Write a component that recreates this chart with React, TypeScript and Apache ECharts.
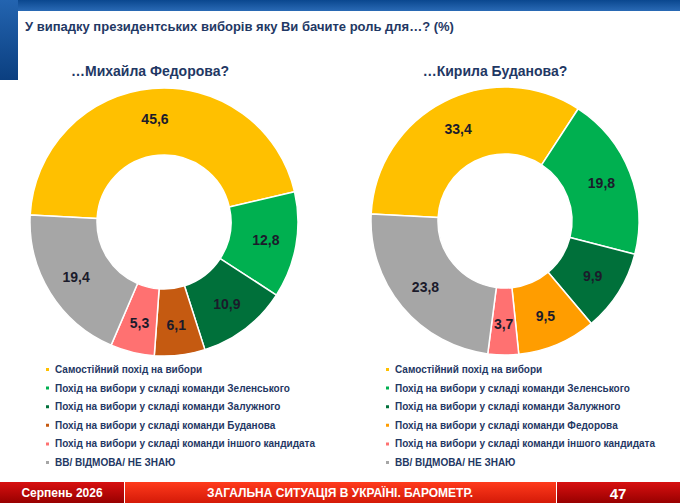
import * as echarts from 'echarts';
import React, { useEffect, useRef } from 'react';

const titleText = 'У випадку президентських виборів яку Ви бачите роль для…? (%)';
const leftTitle = '…Михайла Федорова?';
const rightTitle = '…Кирила Буданова?';

const leftNames = [
  'Самостійний похід на вибори',
  'Похід на вибори у складі команди Зеленського',
  'Похід на вибори у складі команди Залужного',
  'Похід на вибори у складі команди Буданова',
  'Похід на вибори у складі команди іншого кандидата',
  'ВВ/ ВІДМОВА/ НЕ ЗНАЮ',
];
const leftValues = [45.6, 12.8, 10.9, 6.1, 5.3, 19.4];
const leftColors = ['#FFC000', '#00B050', '#00703A', '#C55A11', '#FF7171', '#A6A6A6'];

const rightNames = [
  'Самостійний похід на вибори',
  'Похід на вибори у складі команди Зеленського',
  'Похід на вибори у складі команди Залужного',
  'Похід на вибори у складі команди Федорова',
  'Похід на вибори у складі команди іншого кандидата',
  'ВВ/ ВІДМОВА/ НЕ ЗНАЮ',
];
const rightValues = [33.4, 19.8, 9.9, 9.5, 3.7, 23.8];
const rightColors = ['#FFC000', '#00B050', '#00703A', '#FF9D00', '#FF7171', '#A6A6A6'];

const footerDate = 'Серпень 2026';
const footerMiddle = 'ЗАГАЛЬНА СИТУАЦІЯ В УКРАЇНІ. БАРОМЕТР.';
const footerPage = '47';

const FONT = '"Liberation Sans", Arial, sans-serif';
const NAVY = '#1F3864';

const App: React.FC = () => {
  const chartRef = useRef<HTMLDivElement>(null);

  useEffect(() => {
    if (!chartRef.current) return;
    const chart = echarts.init(chartRef.current, undefined, { renderer: 'svg' });

    const makePie = (
      names: string[],
      values: number[],
      colors: string[],
      center: [number, number]
    ) => ({
      type: 'pie' as const,
      center,
      radius: [67, 134],
      startAngle: 177,
      clockwise: true,
      avoidLabelOverlap: false,
      label: {
        show: true,
        position: 'inside',
        formatter: (p: any) => String(p.value).replace('.', ','),
        color: '#1B1B2B',
        fontSize: 14,
        fontWeight: 'bold',
        fontFamily: FONT,
      },
      labelLine: { show: false },
      itemStyle: { borderColor: '#fff', borderWidth: 1.5 },
      emphasis: { disabled: true },
      data: names.map((n, i) => ({
        name: n,
        value: values[i],
        itemStyle: { color: colors[i] },
      })),
    });

    const legendBase = {
      orient: 'vertical' as const,
      top: 358,
      itemWidth: 5,
      itemHeight: 5,
      itemGap: 5.6,
      icon: 'rect',
      selectedMode: false,
      textStyle: {
        color: NAVY,
        fontSize: 10,
        fontWeight: 'bold',
        fontFamily: FONT,
        lineHeight: 13,
      },
    };

    const option: echarts.EChartsOption = {
      animation: false,
      backgroundColor: '#fff',
      legend: [
        { ...legendBase, left: 39, data: leftNames },
        { ...legendBase, left: 379, data: rightNames },
      ],
      series: [
        makePie(leftNames, leftValues, leftColors, [164, 222]),
        makePie(rightNames, rightValues, rightColors, [505, 221]),
      ],
      graphic: [
        // header band
        {
          type: 'rect',
          shape: { x: 0, y: 0, width: 680, height: 11 },
          style: {
            fill: new echarts.graphic.LinearGradient(0, 0, 0, 1, [
              { offset: 0, color: '#0A478F' },
              { offset: 1, color: '#2A6AB5' },
            ]),
          },
          silent: true,
        },
        {
          type: 'rect',
          shape: { x: 0, y: 0, width: 18, height: 80 },
          style: {
            fill: new echarts.graphic.LinearGradient(0, 0, 0, 1, [
              { offset: 0, color: '#2364B0' },
              { offset: 1, color: '#0B3F80' },
            ]),
          },
          silent: true,
        },
        {
          type: 'text',
          x: 25,
          y: 26,
          style: {
            text: titleText,
            fill: NAVY,
            fontSize: 13,
            fontWeight: 'bold',
            fontFamily: FONT,
            verticalAlign: 'middle',
          },
        },
        {
          type: 'text',
          x: 150,
          y: 71,
          style: {
            text: leftTitle,
            fill: NAVY,
            fontSize: 14,
            fontWeight: 'bold',
            fontFamily: FONT,
            align: 'center',
            verticalAlign: 'middle',
          },
        },
        {
          type: 'text',
          x: 495,
          y: 71,
          style: {
            text: rightTitle,
            fill: NAVY,
            fontSize: 14,
            fontWeight: 'bold',
            fontFamily: FONT,
            align: 'center',
            verticalAlign: 'middle',
          },
        },
        // footer
        {
          type: 'rect',
          shape: { x: 0, y: 482, width: 124, height: 21 },
          style: {
            fill: new echarts.graphic.LinearGradient(0, 0, 0, 1, [
              { offset: 0, color: '#D81010' },
              { offset: 1, color: '#980000' },
            ]),
          },
          silent: true,
        },
        {
          type: 'rect',
          shape: { x: 125, y: 482, width: 431, height: 21 },
          style: {
            fill: new echarts.graphic.LinearGradient(0, 0, 0, 1, [
              { offset: 0, color: '#FF3A1C' },
              { offset: 1, color: '#D41A08' },
            ]),
          },
          silent: true,
        },
        {
          type: 'rect',
          shape: { x: 557, y: 482, width: 123, height: 21 },
          style: {
            fill: new echarts.graphic.LinearGradient(0, 0, 0, 1, [
              { offset: 0, color: '#D81010' },
              { offset: 1, color: '#980000' },
            ]),
          },
          silent: true,
        },
        {
          type: 'text',
          x: 62,
          y: 493,
          style: {
            text: footerDate,
            fill: '#fff',
            fontSize: 12,
            fontWeight: 'bold',
            fontFamily: FONT,
            align: 'center',
            verticalAlign: 'middle',
          },
        },
        {
          type: 'text',
          x: 340,
          y: 493,
          style: {
            text: footerMiddle,
            fill: '#fff',
            fontSize: 12,
            fontWeight: 'bold',
            fontFamily: FONT,
            align: 'center',
            verticalAlign: 'middle',
          },
        },
        {
          type: 'text',
          x: 618,
          y: 493,
          style: {
            text: footerPage,
            fill: '#fff',
            fontSize: 15,
            fontWeight: 'bold',
            fontFamily: FONT,
            align: 'center',
            verticalAlign: 'middle',
          },
        },
      ],
    };

    chart.setOption(option);
    return () => {
      chart.dispose();
    };
  }, []);

  return (
    <div
      ref={chartRef}
      style={{ position: 'absolute', left: 0, top: 0, width: 680, height: 503 }}
    />
  );
};

export default App;
